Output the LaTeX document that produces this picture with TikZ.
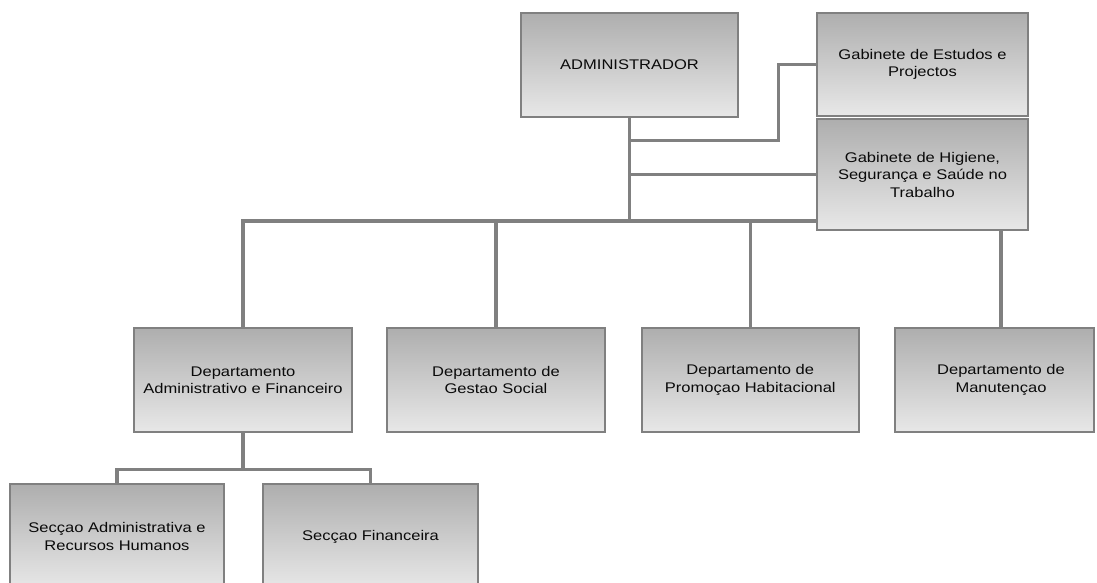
\documentclass[tikz,border=0pt]{standalone}
\usepackage{fontspec}
\setmainfont{Liberation Sans}[FakeStretch=1.18]
\usetikzlibrary{backgrounds}
\definecolor{boxtop}{RGB}{174,174,174}
\definecolor{boxbot}{RGB}{232,232,232}
\definecolor{boxline}{RGB}{128,128,128}
\definecolor{linegray}{RGB}{128,128,128}
\definecolor{txt}{RGB}{10,10,10}
\tikzset{
  orgbox/.style={draw=boxline, line width=2.2pt, top color=boxtop, bottom color=boxbot,
    align=center, inner sep=0pt, font=\fontsize{14}{17.3}\selectfont, text=txt},
  boxtext/.style={align=center, inner sep=0pt, font=\fontsize{14}{17.3}\selectfont, text=txt},
  link/.style={draw=linegray, line width=3.5pt},
}
\begin{document}
\begin{tikzpicture}[x=1pt,y=-1pt]
\useasboundingbox (0,0) rectangle (1097,583);
\clip (0,0) rectangle (1097,583);
% top level
\node[orgbox, minimum width=217.6pt, minimum height=104.6pt] (admin) at (629.5,65) {ADMINISTRADOR};
\node[orgbox, minimum width=211.6pt, minimum height=103.3pt] (gab) at (922.5,64.4) {Gabinete de Estudos e\\Projectos};
\node[orgbox, minimum width=211pt, minimum height=110.7pt] (hig) at (922.5,174.7) {Gabinete de Higiene,\\Segurança e Saúde no\\Trabalho};
% departments
\node[orgbox, minimum width=217.4pt, minimum height=104.6pt] (daf) at (243,380) {Departamento\\Administrativo e Financeiro};
\node[orgbox, minimum width=217.6pt, minimum height=104.6pt] (dgs) at (496,380) {Departamento de\\Gestao Social};
\node[orgbox, minimum width=217pt, minimum height=104.6pt] (dph) at (750.3,380) {Departamento de\\Promoçao Habitacional};
\node[orgbox, minimum width=199.3pt, minimum height=104.6pt] (manut) at (994.35,380) {};
\node[boxtext] (manuttext) at (1001,380) {Departamento de\\Manutençao};
% sections
\node[orgbox, minimum width=214.5pt, minimum height=104.7pt] (seca) at (117,536.6) {Secçao Administrativa e\\Recursos Humanos};
\node[orgbox, minimum width=215pt, minimum height=104.7pt] (secf) at (370.5,536.6) {Secçao Financeira};
% connectors
\coordinate (busL) at (244,221);
\coordinate (gbend) at (778.5,140.7);
\coordinate (sb) at (244,469.3);
\begin{scope}[on background layer]
\draw[link] (admin.south) -- (admin.south |- busL);
\draw[link] (admin.south |- gbend) -- (gbend) -- (gbend |- gab.west) -- (gab.west);
\draw[link] (admin.south |- hig.west) -- (hig.west);
\draw[link] (daf.north) -- (daf.north |- busL) -- (hig.west |- busL);
\draw[link] (dgs.north) -- (dgs.north |- busL);
\draw[link] (dph.north) -- (dph.north |- busL);
\draw[link] (hig.south -| manuttext) -- (manut.north -| manuttext);
\draw[link] (daf.south) -- (daf.south |- sb);
\draw[link] (seca.north) -- (seca.north |- sb) -- (secf.north |- sb) -- (secf.north);
\end{scope}
\end{tikzpicture}
\end{document}
